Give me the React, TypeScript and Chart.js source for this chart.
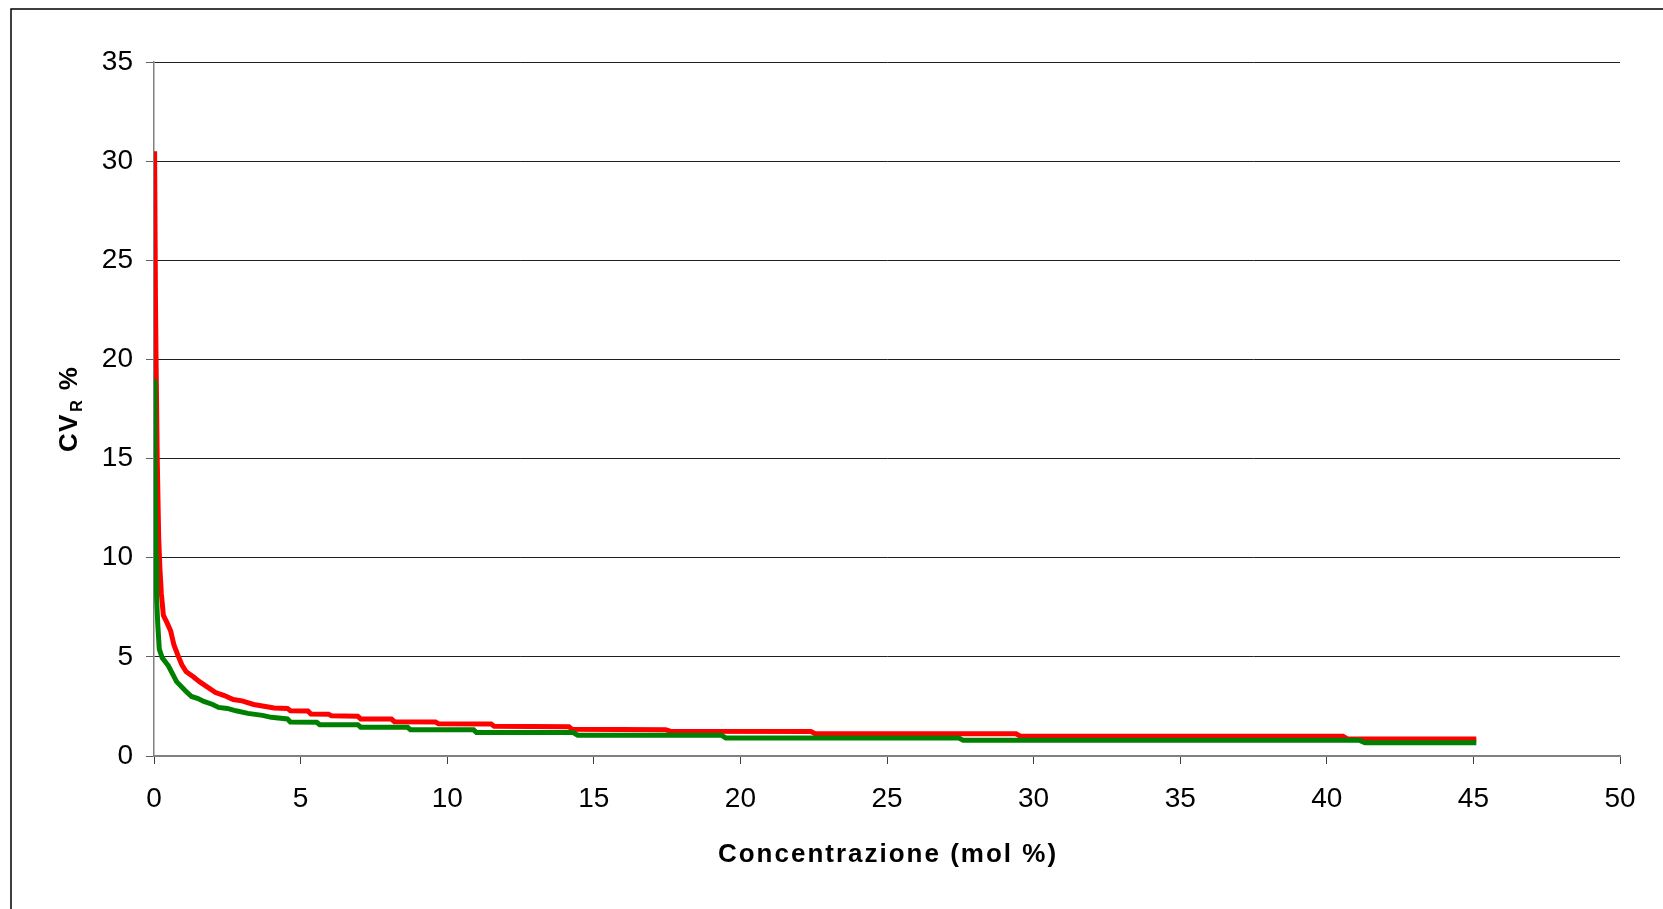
import React, { useEffect, useRef } from "react";
import { Chart, registerables } from "chart.js";

Chart.register(...registerables);

// Concentration (mol %) and CV_R % values
const redX = [0.02, 0.05, 0.07, 0.11, 0.16, 0.2, 0.25, 0.32, 0.45, 0.57, 0.68, 0.81, 0.95, 1.1, 1.34, 1.55, 1.8, 2.1, 2.4, 2.7, 3.0, 3.4, 3.7, 4.1, 4.55, 4.65, 5.25, 5.35, 5.95, 6.05, 6.95, 7.05, 8.1, 8.2, 9.6, 9.7, 11.5, 11.6, 14.15, 14.25, 17.45, 17.6, 22.4, 22.55, 29.4, 29.55, 40.55, 40.7, 45.1];
const redY = [30.5, 23, 20, 15, 11, 9.5, 8.2, 7.1, 6.7, 6.3, 5.6, 5.1, 4.6, 4.25, 4.0, 3.75, 3.5, 3.2, 3.05, 2.85, 2.78, 2.6, 2.52, 2.42, 2.4, 2.28, 2.27, 2.12, 2.11, 2.03, 2.0, 1.87, 1.86, 1.73, 1.72, 1.62, 1.61, 1.5, 1.48, 1.35, 1.33, 1.25, 1.24, 1.12, 1.12, 1.0, 1.0, 0.86, 0.86];

const greenX = [0.02, 0.03, 0.07, 0.09, 0.13, 0.18, 0.28, 0.49, 0.77, 1.06, 1.28, 1.5, 1.7, 2.0, 2.2, 2.5, 2.8, 3.2, 3.7, 4.0, 4.55, 4.65, 5.55, 5.65, 6.95, 7.05, 8.65, 8.75, 10.9, 11.0, 14.3, 14.45, 19.35, 19.5, 27.45, 27.6, 41.1, 41.3, 45.1];
const greenY = [19.0, 15.1, 10, 7.9, 6.6, 5.4, 4.95, 4.55, 3.75, 3.3, 3.0, 2.9, 2.75, 2.6, 2.45, 2.4, 2.28, 2.15, 2.05, 1.95, 1.87, 1.72, 1.7, 1.58, 1.58, 1.45, 1.45, 1.32, 1.32, 1.18, 1.18, 1.05, 1.05, 0.91, 0.91, 0.79, 0.8, 0.67, 0.67];

const xTickValues = [0, 5, 10, 15, 20, 25, 30, 35, 40, 45, 50];
const yTickValues = [0, 5, 10, 15, 20, 25, 30, 35];

const xTitle = "Concentrazione (mol %)";
const yTitleMain = "CV";
const yTitleSub = "R";
const yTitleTail = "%";

const FONT = "'Liberation Sans', Arial, sans-serif";

export default function App() {
  const ref = useRef<HTMLCanvasElement | null>(null);

  useEffect(() => {
    const canvas = ref.current;
    if (!canvas) return;

    const toPts = (xs: number[], ys: number[]) => xs.map((x, i) => ({ x, y: ys[i] }));

    const decor = {
      id: "decor",
      beforeDraw(chart: any) {
        const ctx = chart.ctx;
        ctx.save();
        ctx.fillStyle = "#ffffff";
        ctx.fillRect(0, 0, chart.width, chart.height);
        ctx.strokeStyle = "#000000";
        ctx.lineWidth = 1.5;
        ctx.strokeRect(11, 9, 3000, 3000);
        ctx.restore();
      },
      afterDraw(chart: any) {
        const ctx = chart.ctx;
        const a = chart.chartArea;
        ctx.save();
        ctx.fillStyle = "#000000";
        // x title
        ctx.font = `bold 26px ${FONT}`;
        (ctx as any).letterSpacing = "2px";
        ctx.textAlign = "center";
        ctx.textBaseline = "middle";
        ctx.fillText(xTitle, (a.left + a.right) / 2 + 1, 855);
        // y title with subscript
        (ctx as any).letterSpacing = "1px";
        ctx.translate(67, (a.top + a.bottom) / 2);
        ctx.rotate(-Math.PI / 2);
        ctx.textAlign = "left";
        ctx.textBaseline = "alphabetic";
        ctx.font = `bold 26px ${FONT}`;
        const w1 = ctx.measureText(yTitleMain).width;
        ctx.font = `bold 16px ${FONT}`;
        const w2 = ctx.measureText(yTitleSub).width;
        ctx.font = `bold 26px ${FONT}`;
        const w3 = ctx.measureText(yTitleTail).width;
        const gap1 = 2;
        const gap2 = 9;
        const total = w1 + w2 + w3 + gap1 + gap2;
        let x = -total / 2;
        const base = 9.5;
        ctx.fillText(yTitleMain, x, base);
        x += w1 + gap1;
        ctx.font = `bold 16px ${FONT}`;
        ctx.fillText(yTitleSub, x, base + 5);
        x += w2 + gap2;
        ctx.font = `bold 26px ${FONT}`;
        ctx.fillText(yTitleTail, x, base);
        ctx.restore();
      },
    };

    const chart = new Chart(canvas, {
      type: "line",
      data: {
        datasets: [
          {
            label: "green",
            data: toPts(greenX, greenY),
            borderColor: "#008000",
            backgroundColor: "#008000",
            borderWidth: 5,
            pointRadius: 0,
            tension: 0,
            fill: false,
          },
          {
            label: "red",
            data: toPts(redX, redY),
            borderColor: "#ff0000",
            backgroundColor: "#ff0000",
            borderWidth: 5,
            pointRadius: 0,
            tension: 0,
            fill: false,
          },
        ],
      },
      options: {
        animation: false,
        responsive: false,
        devicePixelRatio: 1,
        layout: { padding: { left: 0, top: 62, right: 43, bottom: 0 } },
        plugins: {
          legend: { display: false },
          tooltip: { enabled: false },
          title: { display: false },
        },
        scales: {
          x: {
            type: "linear",
            min: 0,
            max: 50,
            afterBuildTicks(scale: any) {
              scale.ticks = xTickValues.map((v) => ({ value: v }));
            },
            afterFit(scale: any) {
              scale.height = 909 - 756;
            },
            grid: {
              drawOnChartArea: false,
              drawTicks: true,
              tickLength: 8,
              tickColor: "#404040",
              tickWidth: 1,
            },
            border: { display: true, color: "#808080", width: 1.5 },
            ticks: {
              color: "#000000",
              font: { family: FONT, size: 28 },
              padding: 18,
              maxRotation: 0,
              autoSkip: false,
            },
          },
          y: {
            type: "linear",
            min: 0,
            max: 35,
            afterBuildTicks(scale: any) {
              scale.ticks = yTickValues.map((v) => ({ value: v }));
            },
            afterFit(scale: any) {
              scale.width = 154;
            },
            grid: {
              drawOnChartArea: true,
              drawTicks: true,
              tickLength: 8,
              color: (c: any) => (c.tick && c.tick.value === 0 ? "#808080" : "#202020"),
              tickColor: "#606060",
              lineWidth: 1,
            },
            border: { display: true, color: "#808080", width: 1.5 },
            ticks: {
              color: "#000000",
              font: { family: FONT, size: 28 },
              padding: 13,
              autoSkip: false,
            },
          },
        },
      },
      plugins: [decor],
    } as any);

    return () => chart.destroy();
  }, []);

  return (
    <div style={{ position: "fixed", left: 0, top: 0, width: 1663, height: 909, background: "#fff" }}>
      <canvas ref={ref} width={1663} height={909} style={{ display: "block", width: 1663, height: 909 }} />
    </div>
  );
}
